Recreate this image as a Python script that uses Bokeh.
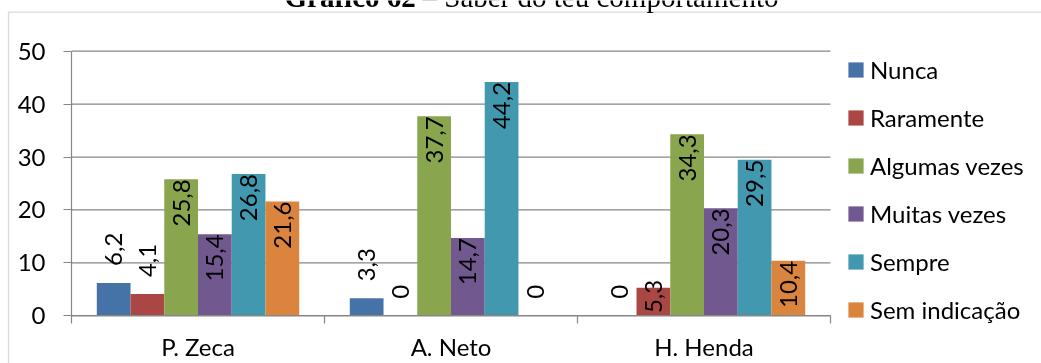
import numpy as np
from bokeh.plotting import figure
from bokeh.models import (Range1d, FixedTicker, Legend, LegendItem, ColumnDataSource,
                          Label, BoxAnnotation, LinearAxis)
from bokeh.core.properties import value
from bokeh.embed import file_html
from bokeh.resources import INLINE

# ---------------- data ----------------
categories = ["P. Zeca", "A. Neto", "H. Henda"]
series = ["Nunca", "Raramente", "Algumas vezes", "Muitas vezes", "Sempre", "Sem indicação"]
nunca = [6.2, 3.3, 0]
raramente = [4.1, 0, 5.3]
algumas_vezes = [25.8, 37.7, 34.3]
muitas_vezes = [15.4, 14.7, 20.3]
sempre = [26.8, 44.2, 29.5]
sem_indicacao = [21.6, 0, 10.4]
y_ticks = [0, 10, 20, 30, 40, 50]
title_bold = "Gráfico 62"
title_rest = "– Saber do teu comportamento"

series_values = [nunca, raramente, algumas_vezes, muitas_vezes, sempre, sem_indicacao]
colors = ["#4572A7", "#AA4643", "#89A54E", "#71588F", "#4198AF", "#DB843D"]
label_position = ["outside", "inside", "inside", "inside", "inside", "inside"]

# ---------------- layout / style ----------------
W, H = 1041, 363
PX_X0 = 71          # page x of the category axis start
CAT_PX = 253        # width of one category (px)
PX_Y0 = 315.3       # page y of value 0
PX_Y50 = 50.7       # page y of value 50
GRAY = "#868686"
FONT = "Lato"
FS = "24px"
GROUP = 0.8
BAR_W = GROUP / len(series)
Y_MAX = y_ticks[-1]
n_cat = len(categories)

unit = (PX_Y0 - PX_Y50) / Y_MAX
x_start, x_end = -PX_X0 / CAT_PX, (W - PX_X0) / CAT_PX
y_start, y_end = -(H - PX_Y0) / unit, PX_Y0 / unit

p = figure(width=W, height=H, x_range=Range1d(x_start, x_end), y_range=Range1d(y_start, y_end),
           output_backend="svg", toolbar_location=None, x_axis_type=None, y_axis_type=None,
           title=None, min_border=0)
p.styles = {"position": "fixed", "left": "0px", "top": "0px"}
p.outline_line_color = None
p.background_fill_color = "white"
p.border_fill_color = "white"

# y axis (drawn at x = 0)
yaxis = LinearAxis(ticker=FixedTicker(ticks=y_ticks, minor_ticks=[]), bounds=(0, Y_MAX),
                   fixed_location=0)
yaxis.axis_line_color = GRAY
yaxis.axis_line_width = 1.2
yaxis.major_tick_line_color = GRAY
yaxis.major_tick_line_width = 1.2
yaxis.major_tick_out = 8
yaxis.major_tick_in = 0
yaxis.minor_tick_line_color = None
yaxis.major_label_standoff = 18
yaxis.major_label_text_font = FONT
yaxis.major_label_text_font_size = FS
yaxis.major_label_text_color = "black"
p.add_layout(yaxis, "left")

# x axis (drawn at y = 0): labels at category centres, ticks at category boundaries
centres = [i + 0.5 for i in range(n_cat)]
bounds = list(range(n_cat + 1))
xaxis = LinearAxis(ticker=FixedTicker(ticks=centres, minor_ticks=bounds), bounds=(0, n_cat),
                   fixed_location=0)
xaxis.major_label_overrides = {c: name for c, name in zip(centres, categories)}
xaxis.axis_line_color = GRAY
xaxis.axis_line_width = 1.2
xaxis.major_tick_line_color = None
xaxis.major_tick_out = 8
xaxis.major_tick_in = 0
xaxis.minor_tick_line_color = GRAY
xaxis.minor_tick_line_width = 1.2
xaxis.minor_tick_out = 8
xaxis.minor_tick_in = 0
xaxis.major_label_standoff = 8
xaxis.major_label_text_font = FONT
xaxis.major_label_text_font_size = FS
xaxis.major_label_text_color = "black"
p.add_layout(xaxis, "below")

# horizontal gridlines, limited to the category area
p.segment(x0=[0] * len(y_ticks), x1=[n_cat] * len(y_ticks), y0=y_ticks, y1=y_ticks,
          line_color=GRAY, line_width=1.2, level="underlay")

# bars + value labels
legend_items = []
lab_out = dict(x=[], y=[], text=[])
lab_in = dict(x=[], y=[], text=[])
for j, (name, vals) in enumerate(zip(series, series_values)):
    xs = np.arange(n_cat) + 0.5 + (j - (len(series) - 1) / 2) * BAR_W
    src = ColumnDataSource(dict(x=xs, top=vals))
    r = p.vbar(x="x", top="top", width=BAR_W, source=src, fill_color=colors[j], line_color=None)
    legend_items.append(LegendItem(label=name, renderers=[r]))
    for x, v in zip(xs, vals):
        txt = "0" if v == 0 else f"{v:.1f}".replace(".", ",")
        if label_position[j] == "outside" or v < 5:
            lab_out["x"].append(x); lab_out["y"].append(v); lab_out["text"].append(txt)
        else:
            lab_in["x"].append(x); lab_in["y"].append(max(v, 6.8)); lab_in["text"].append(txt)

p.text(x="x", y="y", text="text", source=ColumnDataSource(lab_out), angle=np.pi / 2,
       text_align="left", text_baseline="middle", y_offset=-17,
       text_font=value(FONT), text_font_size=FS, text_color="black")
p.text(x="x", y="y", text="text", source=ColumnDataSource(lab_in), angle=np.pi / 2,
       text_align="right", text_baseline="middle", y_offset=0,
       text_font=value(FONT), text_font_size=FS, text_color="black")

# legend (screen position measured from the bottom-left corner)
legend = Legend(items=legend_items, location=(846, 39), orientation="vertical",
                glyph_width=19, glyph_height=19, label_height=30, label_standoff=5,
                spacing=18, padding=0, margin=0, border_line_color=None,
                background_fill_alpha=0, label_text_font=FONT, label_text_font_size=FS,
                label_text_color="black")
p.add_layout(legend)

# outer chart border (continues beyond the visible window)
border = BoxAnnotation(left=8, right=W + 20, top=H - 11.7, bottom=-100,
                       left_units="screen", right_units="screen", top_units="screen",
                       bottom_units="screen", fill_alpha=0, line_color=GRAY, line_width=1.3)
p.add_layout(border)

# document title above the chart (cut by the window top)
TY = H + 3.5
p.add_layout(Label(x=284, y=TY, x_units="screen", y_units="screen", text=title_bold,
                   text_font="Liberation Serif", text_font_size="29px", text_font_style="bold",
                   text_baseline="alphabetic", text_color="black"))
p.add_layout(Label(x=422, y=TY, x_units="screen", y_units="screen", text=title_rest,
                   text_font="Liberation Serif", text_font_size="29px",
                   text_baseline="alphabetic", text_color="black"))

open("out.html", "w").write(file_html(p, INLINE))
